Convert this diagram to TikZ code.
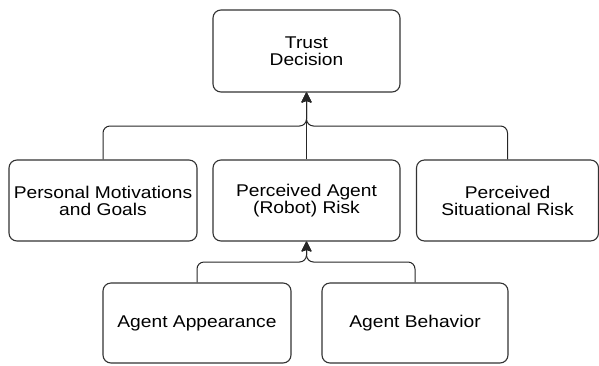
\documentclass[tikz,border=0pt]{standalone}
\usepackage{fontspec}
\setmainfont{Liberation Sans}[FakeStretch=1.13]
\usetikzlibrary{arrows.meta}

\begin{document}
\begin{tikzpicture}[x=1pt,y=-1pt,
  factor/.style={draw=black!80,line width=1.1pt,rounded corners=8pt,align=center,
    inner sep=0pt,font=\fontsize{17}{17}\selectfont},
  link/.style={draw=black!85,line width=1pt,rounded corners=7pt,-{Stealth[length=11pt,width=11pt,inset=2pt,round]}}]
\useasboundingbox (0,0) rectangle (599,365);

% Trust Decision
\node[factor,minimum width=187pt,minimum height=82pt] (td) at (306.5,51) {Trust\\Decision};

% Middle row
\node[factor,minimum width=188pt,minimum height=81pt] (pmg) at (103,200.5) {Personal Motivations\\and Goals};
\node[factor,minimum width=187pt,minimum height=81pt] (par) at (306.5,200.5) {Perceived Agent\\(Robot) Risk};
\node[factor,minimum width=182pt,minimum height=81pt] (psr) at (507.5,200.5) {Perceived\\Situational Risk};

% Bottom row
\node[factor,minimum width=188pt,minimum height=80pt] (aa) at (197,323) {Agent Appearance};
\node[factor,minimum width=186pt,minimum height=80pt] (ab) at (415,323) {Agent Behavior};

% Buses
\coordinate (topbus) at (306.5,126);
\coordinate (lowbus) at (306.5,262);

\draw[link] (pmg.north) |- (topbus) -- (td.south);
\draw[link] (psr.north) |- (topbus) -- (td.south);
\draw[link] (par.north) -- (td.south);

\draw[link] (aa.north) |- (lowbus) -- (par.south);
\draw[link] (ab.north) |- (lowbus) -- (par.south);

\end{tikzpicture}
\end{document}
